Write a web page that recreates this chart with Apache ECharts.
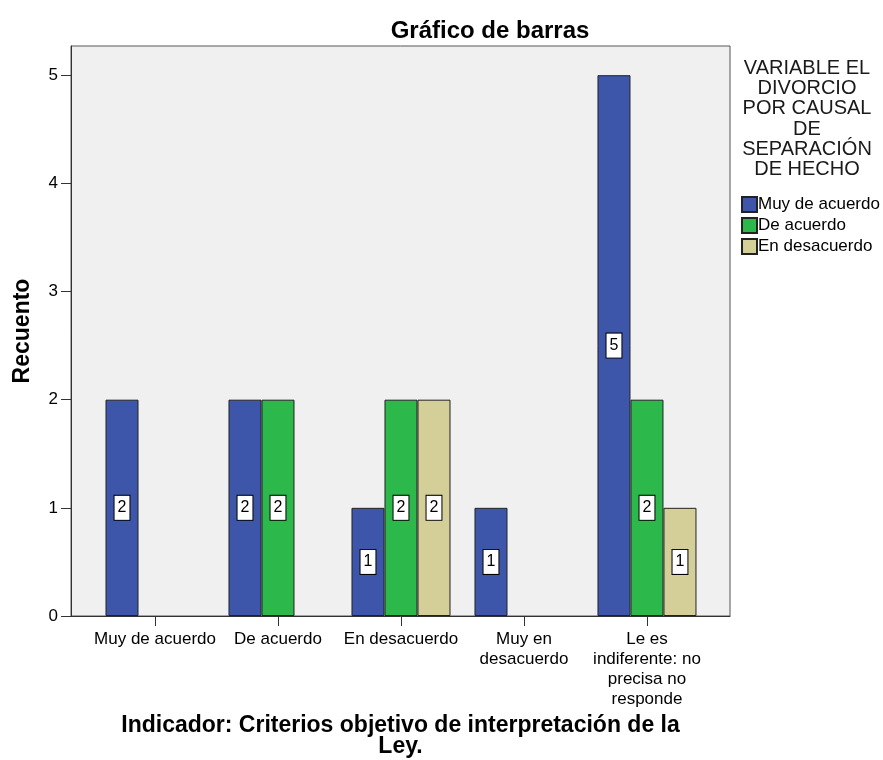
<!DOCTYPE html>
<html>
<head>
<meta charset="utf-8">
<script src="https://cdn.jsdelivr.net/npm/echarts@6/dist/echarts.min.js"></script>
<style>
  html, body { margin: 0; padding: 0; background: #fff; }
  #chart { width: 883px; height: 760px; }
</style>
</head>
<body>
<div id="chart"></div>
<script>
// Clustered bar chart (SPSS style): counts per answer, grouped by category.
const categories = [
  'Muy de acuerdo',
  'De acuerdo',
  'En desacuerdo',
  'Muy en\ndesacuerdo',
  'Le es\nindiferente: no\nprecisa no\nresponde'
];
const seriesNames = ['Muy de acuerdo', 'De acuerdo', 'En desacuerdo'];
// [categoryIndex, count]; missing combos simply have no bar
const muyDeAcuerdo = [[0, 2], [1, 2], [2, 1], [3, 1], [4, 5]];
const deAcuerdo = [[1, 2], [2, 2], [4, 2]];
const enDesacuerdo = [[2, 2], [4, 1]];
const xTicks = [0, 1, 2, 3, 4];
const yTicks = [0, 1, 2, 3, 4, 5];
const colors = ['#3d56aa', '#2db84b', '#d4cf98'];
const legendTitle = 'VARIABLE EL\nDIVORCIO\nPOR CAUSAL\nDE\nSEPARACIÓN\nDE HECHO';

const font = '"Liberation Sans", Arial, sans-serif';
const chart = echarts.init(document.getElementById('chart'), null, { renderer: 'canvas' });

const barLabel = {
  show: true,
  position: 'inside',
  formatter: (p) => String(p.value[1]),
  color: '#000',
  fontFamily: font,
  fontSize: 16,
  lineHeight: 17,
  backgroundColor: '#fff',
  borderColor: '#000',
  borderWidth: 1,
  padding: [4, 3, 3, 3]
};

function bar(name, data, color) {
  return {
    name,
    type: 'bar',
    data,
    barWidth: 33,
    barGap: '0%',
    itemStyle: { color, borderColor: '#222', borderWidth: 1 },
    label: barLabel,
    emphasis: { disabled: true }
  };
}

chart.setOption({
  animation: false,
  textStyle: { fontFamily: font },
  title: {
    text: 'Gráfico de barras',
    left: 485,
    top: 14,
    textAlign: 'center',
    textStyle: { fontSize: 24, fontWeight: 'bold', color: '#000', fontFamily: font }
  },
  legend: {
    orient: 'vertical',
    left: 736,
    top: 191,
    icon: 'rect',
    itemWidth: 15,
    itemHeight: 15,
    itemGap: 4,
    data: seriesNames,
    textStyle: { fontSize: 17, lineHeight: 17, color: '#000', fontFamily: font, padding: [0, 0, 0, -4] }
  },
  graphic: [{
    type: 'text',
    x: 807,
    y: 58,
    style: {
      text: legendTitle,
      textAlign: 'center',
      fontSize: 20,
      lineHeight: 20.3,
      fill: '#1a1a1a',
      fontFamily: font
    }
  }],
  grid: {
    left: 71, right: 153, top: 46, bottom: 144,
    outerBoundsMode: 'none',
    containLabel: false,
    show: true,
    backgroundColor: '#f0f0f0',
    borderColor: '#555',
    borderWidth: 1
  },
  xAxis: {
    type: 'value',
    min: -0.683,
    max: 4.675,
    name: 'Indicador: Criterios objetivo de interpretación de la\nLey.',
    nameLocation: 'middle',
    nameGap: 91,
    nameTextStyle: { fontSize: 23, fontWeight: 'bold', color: '#000', fontFamily: font, lineHeight: 21 },
    axisLine: { show: true, onZero: false, lineStyle: { color: '#333', width: 1 } },
    axisTick: { show: true, length: 10, customValues: xTicks, lineStyle: { color: '#333' } },
    axisLabel: {
      customValues: xTicks,
      formatter: (v) => categories[Math.round(v)],
      color: '#000',
      fontSize: 17,
      lineHeight: 20,
      margin: 13,
      fontFamily: font
    },
    splitLine: { show: false }
  },
  yAxis: {
    type: 'value',
    min: 0,
    max: 5.27,
    name: 'Recuento',
    nameLocation: 'middle',
    nameGap: 37,
    nameTextStyle: { fontSize: 23, fontWeight: 'bold', color: '#000', fontFamily: font },
    axisLine: { show: true, onZero: false, lineStyle: { color: '#333', width: 1 } },
    axisTick: { show: true, length: 10, customValues: yTicks, lineStyle: { color: '#333' } },
    axisLabel: { customValues: yTicks, color: '#000', fontSize: 17, margin: 13, fontFamily: font },
    splitLine: { show: false }
  },
  series: [
    bar(seriesNames[0], muyDeAcuerdo, colors[0]),
    bar(seriesNames[1], deAcuerdo, colors[1]),
    bar(seriesNames[2], enDesacuerdo, colors[2])
  ]
});
</script>
</body>
</html>
